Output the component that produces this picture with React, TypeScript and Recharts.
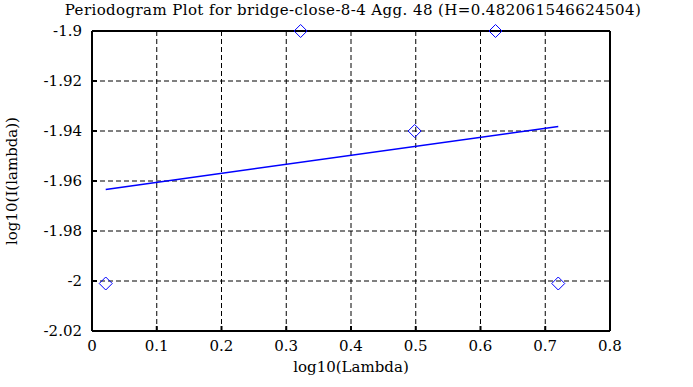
import React from "react";
import {
  ComposedChart,
  Line,
  Scatter,
  XAxis,
  YAxis,
  CartesianGrid,
  Label,
} from "recharts";

const title = "Periodogram Plot for bridge-close-8-4 Agg. 48 (H=0.482061546624504)";

// periodogram points (log10 frequency vs log10 power)
const logLambda = [0.0212, 0.3222, 0.4983, 0.6232, 0.7201];
const logI = [-2.001, -1.9, -1.94, -1.9, -2.001];

// least squares fit, drawn between the first and last point
const fitX = [0.0212, 0.7201];
const fitY = [-1.9634, -1.9382];

const xTicks = [0, 0.1, 0.2, 0.3, 0.4, 0.5, 0.6, 0.7, 0.8];
const yTicks = [-1.9, -1.92, -1.94, -1.96, -1.98, -2, -2.02];

const points = logLambda.map((x, i) => ({ x, y: logI[i] }));
const fit = fitX.map((x, i) => ({ x, fit: fitY[i] }));

const FONT = "DejaVu Serif";
const textStyle = { fontSize: 15, fill: "#000", fontFamily: FONT };

const Diamond = (props: any) => {
  const { cx, cy } = props;
  const r = 6.5;
  return (
    <path
      d={`M${cx},${cy - r}L${cx + r},${cy}L${cx},${cy + r}L${cx - r},${cy}Z`}
      fill="none"
      stroke="#0000ff"
      strokeWidth={1}
    />
  );
};

export default function App() {
  return (
    <div style={{ position: "absolute", left: 0, top: 0, width: 693, height: 387, background: "#fff" }}>
      <div
        style={{
          position: "absolute",
          left: 0,
          top: 0,
          width: 706,
          textAlign: "center",
          fontFamily: FONT,
          fontSize: 15,
          letterSpacing: 0.4,
          lineHeight: "20px",
          whiteSpace: "nowrap",
        }}
      >
        {title}
      </div>
      <ComposedChart
        width={693}
        height={387}
        margin={{ top: 30, right: 82, bottom: 11, left: 12 }}
      >
        <CartesianGrid stroke="#000" strokeDasharray="5 3" strokeWidth={1} />
        <XAxis
          dataKey="x"
          type="number"
          domain={[0, 0.8]}
          ticks={xTicks}
          height={45}
          tick={textStyle}
          tickSize={-5}
          tickMargin={14}
          axisLine={{ stroke: "#000", strokeWidth: 2 }}
          tickLine={{ stroke: "#000", strokeWidth: 2 }}
          interval={0}
        >
          <Label value="log10(Lambda)" position="insideBottom" offset={4} style={textStyle} />
        </XAxis>
        <XAxis
          xAxisId="top"
          orientation="top"
          type="number"
          domain={[0, 0.8]}
          ticks={xTicks}
          height={1}
          tick={false}
          tickSize={-5}
          axisLine={{ stroke: "#000", strokeWidth: 2 }}
          tickLine={{ stroke: "#000", strokeWidth: 2 }}
          interval={0}
        />
        <YAxis
          type="number"
          domain={[-2.02, -1.9]}
          ticks={yTicks}
          width={80}
          tick={textStyle}
          tickSize={-5}
          tickMargin={15}
          axisLine={{ stroke: "#000", strokeWidth: 2 }}
          tickLine={{ stroke: "#000", strokeWidth: 2 }}
          interval={0}
        >
          <Label
            value="log10(I(lambda))"
            position="insideLeft"
            angle={-90}
            offset={0}
            style={{ ...textStyle, textAnchor: "middle" }}
          />
        </YAxis>
        <YAxis
          yAxisId="right"
          orientation="right"
          type="number"
          domain={[-2.02, -1.9]}
          ticks={yTicks}
          width={1}
          tick={false}
          tickSize={-5}
          axisLine={{ stroke: "#000", strokeWidth: 2 }}
          tickLine={{ stroke: "#000", strokeWidth: 2 }}
          interval={0}
        />
        <Line
          data={fit}
          dataKey="fit"
          stroke="#0000ff"
          strokeWidth={1.5}
          dot={false}
          isAnimationActive={false}
        />
        <Scatter data={points} dataKey="y" shape={Diamond} isAnimationActive={false} />
      </ComposedChart>
    </div>
  );
}
